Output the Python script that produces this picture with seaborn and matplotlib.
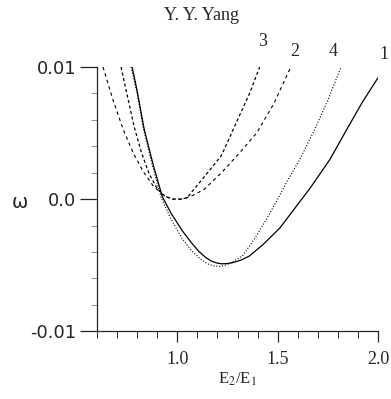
import numpy as np
import pandas as pd
import seaborn as sns
import matplotlib
matplotlib.use('Agg')
import matplotlib.pyplot as plt
from matplotlib.ticker import MultipleLocator

# values (E2/E1 ratio vs omega)
e_curve1 = [0.775, 0.80, 0.835, 0.88, 0.925, 0.97, 1.025, 1.07, 1.11, 1.14, 1.17, 1.20, 1.22,
            1.25, 1.28, 1.32, 1.36, 1.43, 1.51, 1.58, 1.66, 1.76, 1.845, 1.92, 2.0]
w_curve1 = [0.0100, 0.0082, 0.0053, 0.0026, 0.0002, -0.0011, -0.0024, -0.0033, -0.0040, -0.0044, -0.0047,
            -0.00485, -0.0049, -0.00488, -0.0048, -0.0046, -0.0043, -0.0034, -0.0022, -0.0008, 0.0008,
            0.0030, 0.0053, 0.0073, 0.0092]

e_curve2 = [0.63, 0.68, 0.73, 0.78, 0.83, 0.88, 0.93, 0.97, 1.03, 1.08, 1.135,
            1.22, 1.31, 1.395, 1.48, 1.565]
w_curve2 = [0.0100, 0.0075, 0.0053, 0.0035, 0.0021, 0.0010, 0.0003, 0.0000, 0.0000, 0.0003, 0.00075,
            0.0020, 0.0035, 0.0050, 0.0072, 0.0100]

e_curve3 = [0.72, 0.75, 0.785, 0.82, 0.86, 0.90, 0.94, 0.98, 1.02, 1.05, 1.075,
            1.135, 1.22, 1.30, 1.36, 1.41]
w_curve3 = [0.0100, 0.0079, 0.0055, 0.0036, 0.0019, 0.0008, 0.0002, 0.0000, 0.0000, 0.0001, 0.0006,
            0.0017, 0.0033, 0.0060, 0.0080, 0.0100]

e_curve4 = [0.77, 0.80, 0.83, 0.875, 0.92, 0.965, 1.02, 1.07, 1.12, 1.15, 1.18, 1.21,
            1.24, 1.27, 1.325, 1.385, 1.445, 1.50, 1.545, 1.61, 1.685, 1.75, 1.815]
w_curve4 = [0.0100, 0.0080, 0.0054, 0.0026, 0.0001, -0.0014, -0.0029, -0.0039, -0.0046, -0.0049, -0.00505,
            -0.0051, -0.00500, -0.0048, -0.0043, -0.0030, -0.0015, 0.0000, 0.0013, 0.0030, 0.0053,
            0.0075, 0.0100]

curve_names = ['1', '2', '3', '4']
label_e = [2.03, 1.585, 1.425, 1.775]
label_w = [0.0103, 0.0105, 0.0113, 0.0105]

sns.set_style('ticks')
plt.rcParams['font.family'] = ['DejaVu Sans']
plt.rcParams['mathtext.fontset'] = 'stix'

fig = plt.figure(figsize=(3.91, 3.99), dpi=100)
ax = fig.add_axes([0.248, 0.170, 0.719, 0.662])

styles = {
    '1': dict(linestyle='-', linewidth=0.9),
    '2': dict(linestyle=(0, (3, 3)), linewidth=0.8),
    '3': dict(linestyle=(0, (2.5, 2)), linewidth=0.9),
    '4': dict(linestyle=(0, (1, 1.6)), linewidth=0.8),
}
data = {'1': (e_curve1, w_curve1), '2': (e_curve2, w_curve2),
        '3': (e_curve3, w_curve3), '4': (e_curve4, w_curve4)}

for name in curve_names:
    e, w = data[name]
    df = pd.DataFrame({'e': e, 'w': w})
    sns.lineplot(data=df, x='e', y='w', ax=ax, color='black', sort=False,
                 estimator=None, **styles[name])

ax.set_xlim(0.6, 2.0)
ax.set_ylim(-0.01, 0.01)
ax.set_xticks([1.0, 1.5, 2.0])
ax.set_xticklabels(['1.0', '1.5', '2.0'], family='Liberation Serif', fontsize=13)
ax.xaxis.set_minor_locator(MultipleLocator(0.1))
ax.set_yticks([-0.01, 0.0, 0.01])
ax.set_yticklabels(['-0.01', '0.0', '0.01'], fontsize=13)
ax.yaxis.set_minor_locator(MultipleLocator(0.002))
ax.tick_params(axis='x', which='major', direction='out', length=8, width=0.9, pad=6)
ax.tick_params(axis='x', which='minor', direction='out', length=5, width=0.7)
ax.tick_params(axis='y', which='major', direction='out', length=12, width=0.9, pad=3)
ax.tick_params(axis='y', which='minor', direction='out', length=4, width=0.6, color='0.5')
sns.despine(ax=ax)
for s in ['left', 'bottom']:
    ax.spines[s].set_linewidth(0.9)

ax.set_xlabel(r'E$_\mathrm{2}$/E$_\mathrm{1}$', family='Liberation Serif', fontsize=12, labelpad=2)
ax.set_ylabel('')
fig.text(20 / 391, 1 - 202 / 399, 'ω', fontsize=14, ha='center', va='center')
fig.text(202 / 391, 1 - 15 / 399, 'Y. Y. Yang', family='Liberation Serif', fontsize=13,
         ha='center', va='center')

for name, le, lw in zip(curve_names, label_e, label_w):
    ax.text(le, lw, name, family='Liberation Serif', fontsize=13, ha='center',
            va='bottom', clip_on=False)

fig.savefig('out.png', dpi=100)
